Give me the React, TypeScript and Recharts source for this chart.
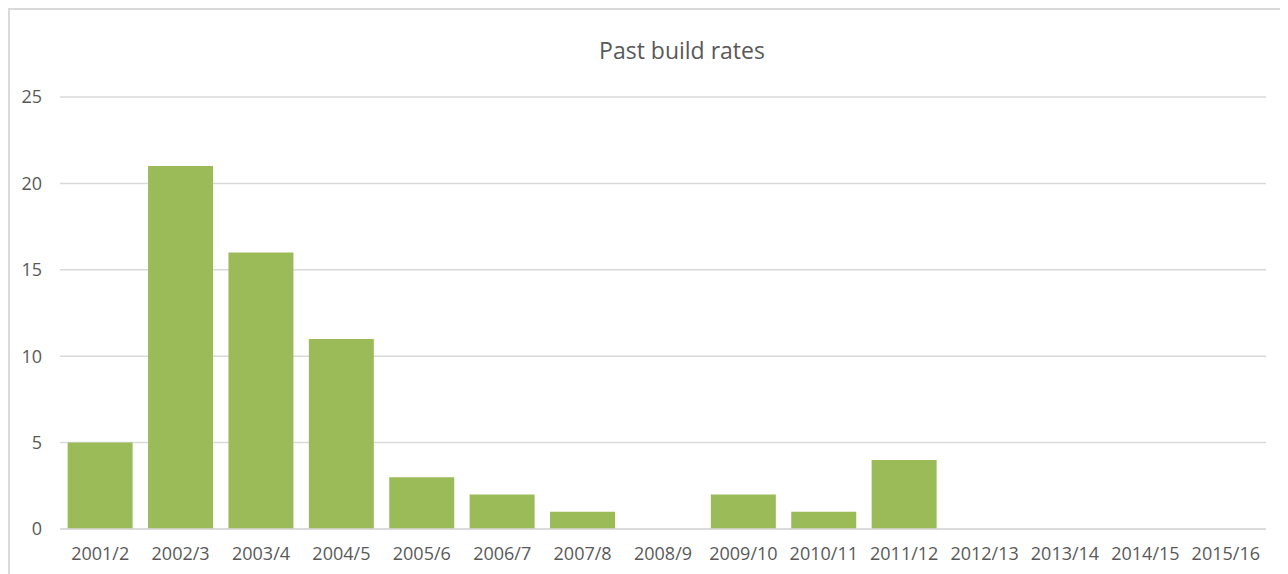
import { BarChart, Bar, XAxis, YAxis, CartesianGrid } from 'recharts'

const years = [
  '2001/2', '2002/3', '2003/4', '2004/5', '2005/6', '2006/7', '2007/8', '2008/9',
  '2009/10', '2010/11', '2011/12', '2012/13', '2013/14', '2014/15', '2015/16',
]
const builds = [5, 21, 16, 11, 3, 2, 1, 0, 2, 1, 4, 0, 0, 0, 0]
const yTicks = [0, 5, 10, 15, 20, 25]

const data = years.map((year, i) => ({ year, builds: builds[i] }))

const font = '"Open Sans", "Liberation Sans", sans-serif'

export default function App() {
  return (
    <div
      style={{
        position: 'relative',
        width: 1280,
        height: 566,
        borderLeft: '2px solid #d9d9d9',
        borderTop: '2px solid #d9d9d9',
        boxSizing: 'border-box',
        fontFamily: font,
      }}
    >
      <div
        style={{
          position: 'absolute',
          left: 0,
          width: 1344,
          top: 24,
          textAlign: 'center',
          fontSize: 23,
          color: '#595959',
        }}
      >
        Past build rates
      </div>
      <BarChart
        width={1278}
        height={564}
        data={data}
        margin={{ top: 89, right: 20, bottom: 0, left: 0 }}
        barCategoryGap="9.5%"
        style={{ position: 'absolute', left: -2, top: -2 }}
      >
        <CartesianGrid horizontal vertical={false} stroke="#d9d9d9" strokeWidth={1.5} />
        <XAxis
          dataKey="year"
          height={43}
          axisLine={{ stroke: '#d9d9d9', strokeWidth: 1.5 }}
          tickLine={false}
          tickSize={0}
          tickMargin={18}
          interval={0}
          tick={{ fontSize: 18, fill: '#595959', fontFamily: font }}
        />
        <YAxis
          width={52}
          domain={[0, 25]}
          ticks={yTicks}
          axisLine={false}
          tickLine={false}
          tickSize={0}
          tickMargin={18}
          tick={{ fontSize: 18, fill: '#595959', fontFamily: font }}
        />
        <Bar dataKey="builds" fill="#9bbb59" isAnimationActive={false} />
      </BarChart>
    </div>
  )
}
